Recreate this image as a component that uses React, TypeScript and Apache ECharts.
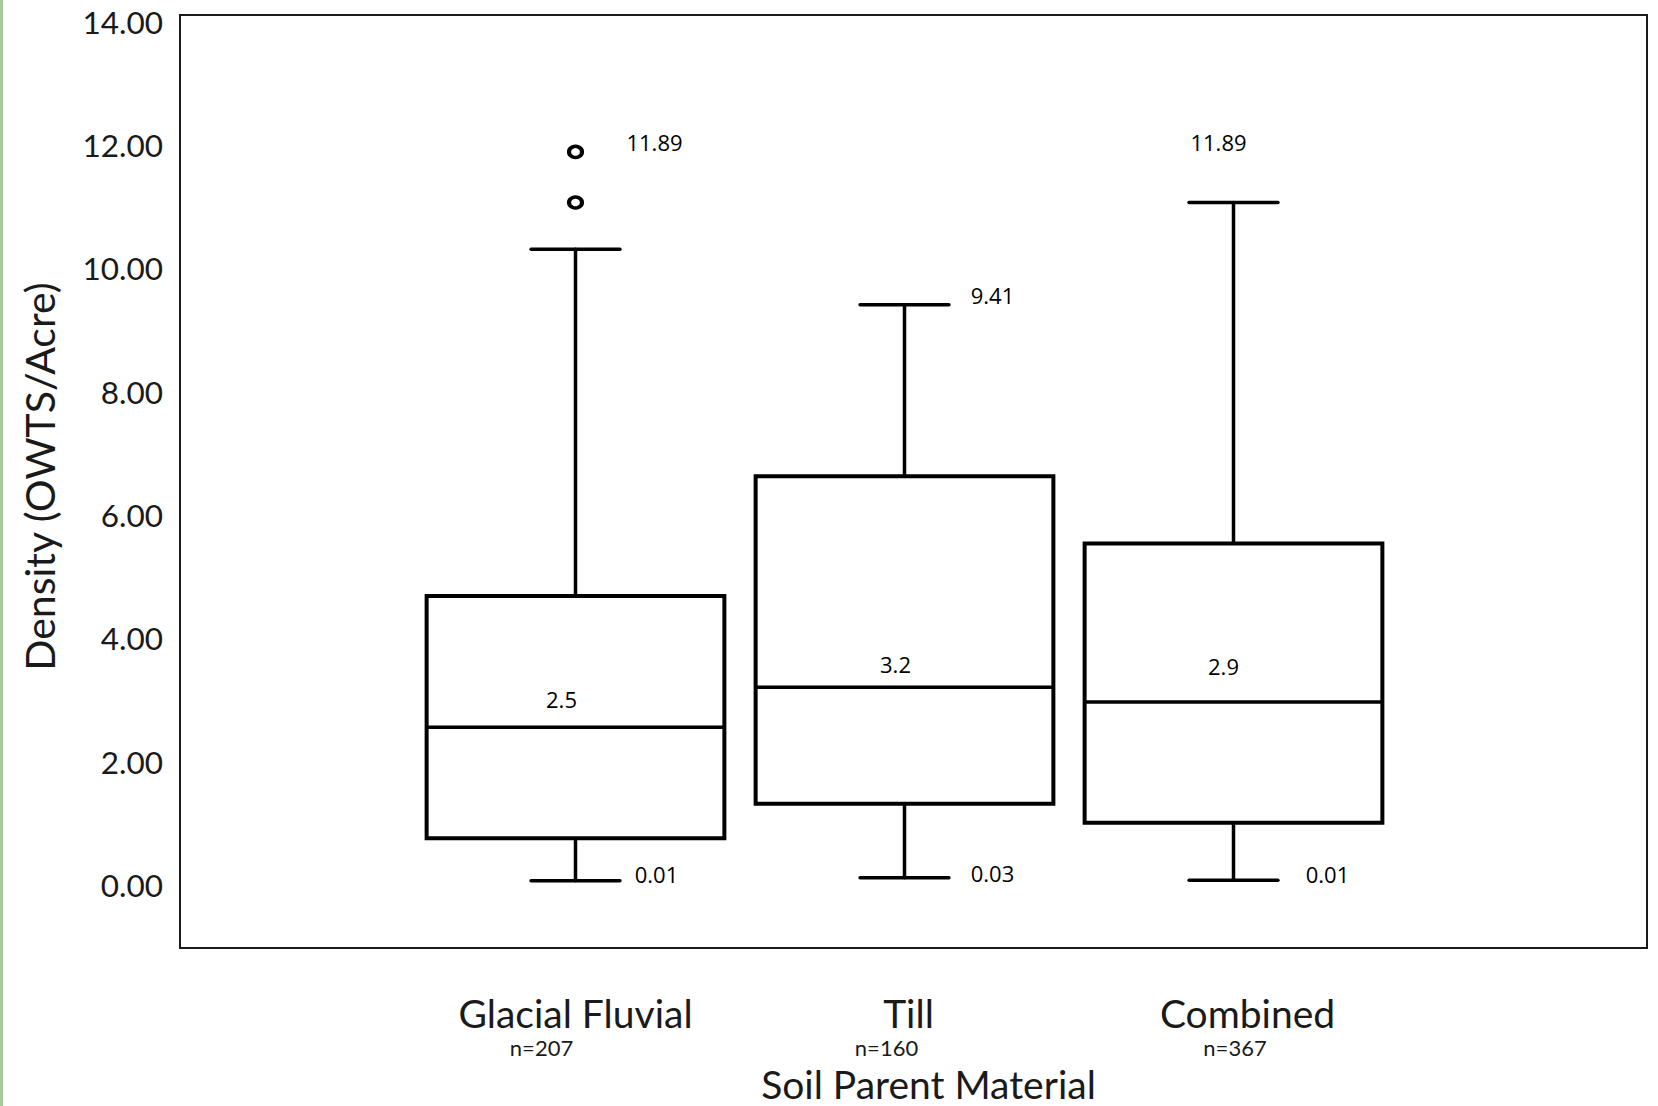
import React, { useEffect, useRef } from "react";
import * as echarts from "echarts";

// ---- data ----
const categories = ["Glacial Fluvial", "Till", "Combined"];
const sampleSizes = ["n=207", "n=160", "n=367"];
const whiskerLow = [0.07, 0.12, 0.08];
const q1 = [0.76, 1.32, 1.01];
const median = [2.56, 3.21, 2.97];
const q3 = [4.69, 6.63, 5.54];
const whiskerHigh = [10.31, 9.41, 11.07];
const outliers: [number, number][] = [
  [0, 11.89],
  [0, 11.07],
];
const yTicks = [0, 2, 4, 6, 8, 10, 12, 14];
const maxLabelValues = [11.89, 9.41, 11.89];
const minLabelValues = [0.01, 0.03, 0.01];
const medianLabels = ["2.5", "3.2", "2.9"];

// ---- layout (px offsets for annotation texts) ----
const maxLabelDx = [79, 88, -15];
const minLabelDx = [81, 88, 94];
const medianLabelDx = [-14, -9, -10];
const medianLabelDy = [-28, -23, -36];

const Y_MIN = -1.02;
const Y_MAX = 14.11;

const App = () => {
  const ref = useRef<HTMLDivElement>(null);
  useEffect(() => {
    const chart = echarts.init(ref.current!, null, { renderer: "svg" });
    const axisFont = "Lato, 'Open Sans', sans-serif";
    const noteFont = "'Open Sans', 'Noto Sans', sans-serif";
    const ink = "#1a1a1a";

    const boxData = categories.map((_, i) => [
      i,
      whiskerLow[i],
      q1[i],
      median[i],
      q3[i],
      whiskerHigh[i],
    ]);

    type Note = { cat: number; value: number; text: string; dx: number; dy: number };
    const notes: Note[] = [];
    categories.forEach((_, i) => {
      notes.push({ cat: i, value: maxLabelValues[i], text: maxLabelValues[i].toFixed(2), dx: maxLabelDx[i], dy: -10 });
      notes.push({ cat: i, value: minLabelValues[i], text: minLabelValues[i].toFixed(2), dx: minLabelDx[i], dy: -10 });
      notes.push({ cat: i, value: median[i], text: medianLabels[i], dx: medianLabelDx[i], dy: medianLabelDy[i] });
    });

    const rich: any = {};
    const catPad = [0, 8, 28];
    const nPadR = [68, 36, 0];
    const nPadL = [0, 0, 3];
    categories.forEach((_, i) => {
      rich["c" + i] = {
        fontFamily: axisFont,
        fontSize: 39,
        lineHeight: 44,
        color: ink,
        padding: [0, 0, 0, catPad[i]],
      };
      rich["n" + i] = {
        fontFamily: axisFont,
        fontSize: 22,
        lineHeight: 24,
        color: ink,
        padding: [0, nPadR[i], 0, nPadL[i]],
      };
    });

    const option: any = {
      animation: false,
      backgroundColor: "#ffffff",
      graphic: [
        {
          type: "rect",
          left: 0,
          top: 0,
          shape: { width: 3, height: 1106 },
          style: { fill: "#a9c99f" },
        },
      ],
      grid: [
        {
          left: 180,
          right: 11,
          top: 15,
          bottom: 158,
          show: true,
          borderColor: ink,
          borderWidth: 2,
          backgroundColor: "transparent",
          outerBoundsMode: "none",
        },
        {
          left: 411,
          right: 260,
          top: 15,
          bottom: 158,
          show: false,
          outerBoundsMode: "none",
        },
      ],
      xAxis: [
        {
          gridIndex: 0,
          type: "value",
          min: 0,
          max: 1,
          axisLine: { show: false },
          axisTick: { show: false },
          axisLabel: { show: false },
          splitLine: { show: false },
          name: "Soil Parent Material",
          nameLocation: "middle",
          nameGap: 116,
          nameTextStyle: {
            fontFamily: axisFont,
            fontSize: 39,
            lineHeight: 40,
            color: ink,
            padding: [0, 0, 0, 30],
          },
        },
        {
          gridIndex: 1,
          type: "category",
          data: categories,
          boundaryGap: true,
          axisLine: { show: false },
          axisTick: { show: false },
          splitLine: { show: false },
          axisLabel: {
            interval: 0,
            margin: 43,
            formatter: (v: string, i: number) => `{c${i}|${v}}\n{n${i}|${sampleSizes[i]}}`,
            rich,
          },
        },
      ],
      yAxis: [
        {
          gridIndex: 0,
          type: "value",
          min: Y_MIN,
          max: Y_MAX,
          axisLine: { show: false },
          axisTick: { show: false },
          splitLine: { show: false },
          axisLabel: {
            customValues: yTicks,
            formatter: (v: number) => v.toFixed(2),
            margin: 17,
            fontFamily: axisFont,
            fontSize: 31.5,
            color: ink,
          },
          name: "Density (OWTS/Acre)",
          nameLocation: "middle",
          nameRotate: 90,
          nameGap: 120,
          nameTextStyle: {
            fontFamily: axisFont,
            fontSize: 41,
            color: ink,
            padding: [0, 0, 0, 10],
          },
        },
        {
          gridIndex: 1,
          type: "value",
          min: Y_MIN,
          max: Y_MAX,
          show: false,
        },
      ],
      series: [
        {
          type: "custom",
          xAxisIndex: 1,
          yAxisIndex: 1,
          data: boxData,
          encode: { x: 0, y: [1, 2, 3, 4, 5] },
          z: 5,
          renderItem: (params: any, api: any) => {
            const i = api.value(0);
            const pLow = api.coord([i, api.value(1)]);
            const pQ1 = api.coord([i, api.value(2)]);
            const pMed = api.coord([i, api.value(3)]);
            const pQ3 = api.coord([i, api.value(4)]);
            const pHigh = api.coord([i, api.value(5)]);
            const band = api.size([1, 0])[0];
            const x = pMed[0];
            const boxW = band * 0.905;
            const capW = band * 0.27;
            const whisker = { stroke: "#000", lineWidth: 3.5, lineCap: "round" };
            const boxStyle = { stroke: "#000", lineWidth: 4, fill: "#fff" };
            return {
              type: "group",
              children: [
                { type: "line", shape: { x1: x, y1: pLow[1], x2: x, y2: pQ1[1] }, style: whisker },
                { type: "line", shape: { x1: x, y1: pQ3[1], x2: x, y2: pHigh[1] }, style: whisker },
                { type: "line", shape: { x1: x - capW / 2, y1: pLow[1], x2: x + capW / 2, y2: pLow[1] }, style: whisker },
                { type: "line", shape: { x1: x - capW / 2, y1: pHigh[1], x2: x + capW / 2, y2: pHigh[1] }, style: whisker },
                {
                  type: "rect",
                  shape: { x: x - boxW / 2, y: pQ3[1], width: boxW, height: pQ1[1] - pQ3[1] },
                  style: boxStyle,
                },
                {
                  type: "line",
                  shape: { x1: x - boxW / 2, y1: pMed[1], x2: x + boxW / 2, y2: pMed[1] },
                  style: { stroke: "#000", lineWidth: 3.5 },
                },
              ],
            };
          },
        },
        {
          type: "scatter",
          xAxisIndex: 1,
          yAxisIndex: 1,
          data: outliers,
          symbol: "circle",
          symbolSize: [13, 11],
          itemStyle: { color: "#fff", borderColor: "#000", borderWidth: 3.8, opacity: 1 },
          z: 6,
        },
        {
          type: "custom",
          xAxisIndex: 1,
          yAxisIndex: 1,
          data: notes.map((n) => [n.cat, n.value]),
          encode: { x: 0, y: 1 },
          z: 7,
          renderItem: (params: any, api: any) => {
            const n = notes[params.dataIndex];
            const p = api.coord([n.cat, n.value]);
            return {
              type: "text",
              x: p[0] + n.dx,
              y: p[1] + n.dy,
              style: {
                text: n.text,
                fill: "#000",
                fontFamily: noteFont,
                fontSize: 22,
                align: "center",
                verticalAlign: "middle",
                textAlign: "center",
                textVerticalAlign: "middle",
              },
            };
          },
        },
      ],
    };

    chart.setOption(option);
    return () => chart.dispose();
  }, []);
  return (
    <div
      ref={ref}
      style={{ position: "fixed", left: 0, top: 0, width: 1658, height: 1106, background: "#fff" }}
    />
  );
};

export default App;
